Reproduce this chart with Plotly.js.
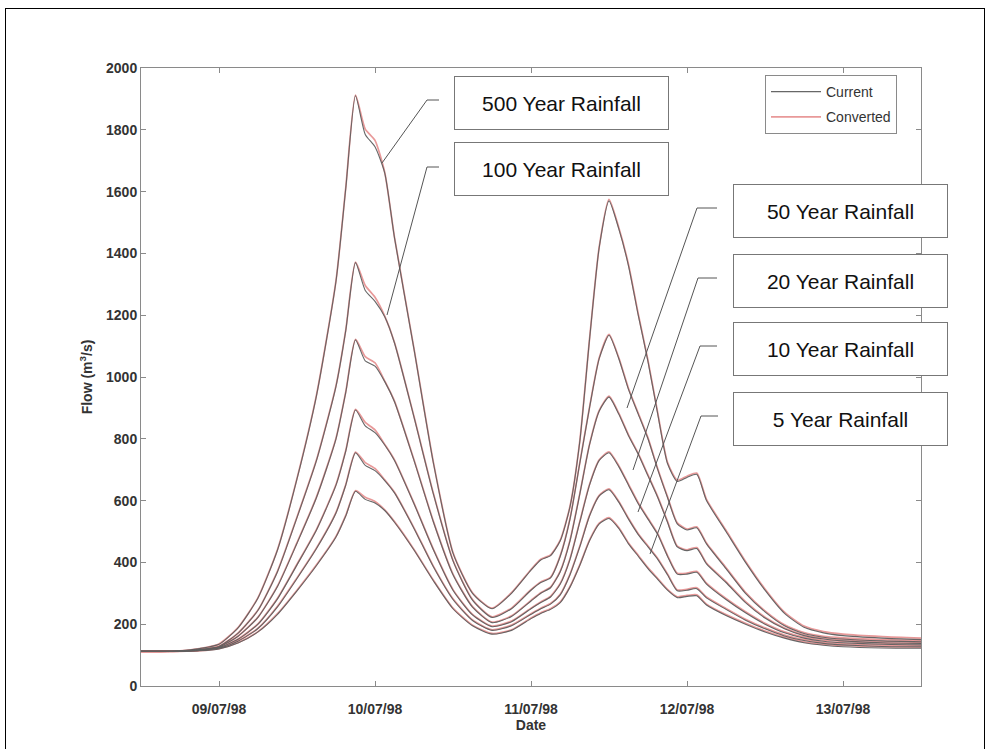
<!DOCTYPE html>
<html><head><meta charset="utf-8">
<script src="https://cdn.plot.ly/plotly-3.0.1.min.js"></script>
<style>
html,body{margin:0;padding:0;background:#fff;overflow:hidden;}
#chart{position:absolute;left:0;top:0;width:991px;height:749px;}
#frame{position:absolute;left:5px;top:8px;width:978px;height:800px;border:1.5px solid #000;pointer-events:none;}
</style></head><body>
<div id="chart"></div><div id="frame"></div>
<script>
// ---- data (times shared by all series) ----
const times = [
 '1998-07-08 12:00','1998-07-08 15:00','1998-07-08 18:00','1998-07-08 21:00',
 '1998-07-09 00:00','1998-07-09 03:00','1998-07-09 06:00','1998-07-09 09:00','1998-07-09 12:00','1998-07-09 15:00','1998-07-09 18:00','1998-07-09 19:30','1998-07-09 21:00','1998-07-09 22:30',
 '1998-07-10 00:00','1998-07-10 01:30','1998-07-10 03:00','1998-07-10 06:00','1998-07-10 09:00','1998-07-10 12:00','1998-07-10 15:00','1998-07-10 18:00','1998-07-10 21:00',
 '1998-07-11 00:00','1998-07-11 01:30','1998-07-11 03:00','1998-07-11 04:30','1998-07-11 06:00','1998-07-11 07:30','1998-07-11 09:00','1998-07-11 10:30','1998-07-11 12:00','1998-07-11 13:30','1998-07-11 15:00','1998-07-11 16:30','1998-07-11 18:00','1998-07-11 19:30','1998-07-11 21:00','1998-07-11 22:30',
 '1998-07-12 00:00','1998-07-12 01:30','1998-07-12 03:00','1998-07-12 06:00','1998-07-12 09:00','1998-07-12 12:00','1998-07-12 15:00','1998-07-12 18:00','1998-07-12 21:00',
 '1998-07-13 00:00','1998-07-13 06:00','1998-07-13 12:00'
];
const current500 = [112,112,114,121,135,190,285,440,670,940,1310,1610,1910,1785,1745,1660,1450,1090,720,430,300,250,300,375,408,422,470,580,790,1120,1420,1570,1480,1360,1200,1050,880,720,662,675,685,600,500,400,310,235,190,172,163,155,150];
const converted500 = [112,112,114,121,136,191,286,442,672,942,1312,1612,1912,1802,1766,1662,1452,1092,722,432,302,252,302,377,410,424,472,582,792,1122,1422,1575,1484,1364,1204,1054,884,724,666,679,689,604,504,404,314,239,194,176,168,160,155];
const current100 = [112,112,113,118,128,172,245,370,545,730,970,1150,1370,1280,1245,1195,1110,870,620,405,278,222,250,310,335,350,420,540,720,900,1060,1135,1060,960,880,800,700,610,525,505,512,460,380,300,240,195,170,158,152,146,143];
const converted100 = [112,112,113,118,129,173,246,372,547,732,972,1152,1372,1296,1258,1197,1112,872,622,407,280,224,252,312,337,352,422,542,722,902,1062,1138,1063,963,883,803,703,613,528,508,515,463,383,303,243,198,173,161,156,150,147];
const current50 = [112,112,113,117,126,162,222,322,462,610,800,950,1120,1052,1035,985,920,730,530,360,255,205,225,275,300,318,370,470,620,780,890,935,880,810,750,680,610,530,450,438,445,395,335,270,220,185,163,152,146,140,138];
const converted50 = [112,112,113,117,127,163,223,324,464,612,802,952,1122,1066,1046,987,922,732,532,362,257,207,227,277,302,320,372,472,622,782,892,938,883,813,753,683,613,533,453,441,448,398,338,273,223,188,166,155,150,144,142];
const current20 = [112,112,113,116,124,152,200,282,392,505,650,760,893,842,820,780,730,590,440,310,230,192,208,250,270,288,330,410,530,650,730,755,710,650,590,540,490,420,362,362,368,330,280,237,200,172,155,145,140,135,133];
const converted20 = [112,112,113,116,125,153,201,284,394,507,652,762,895,853,829,782,732,592,442,312,232,194,210,252,272,290,332,412,532,652,732,758,713,653,593,543,493,423,365,365,371,333,283,240,203,175,158,148,144,139,137];
const current10 = [112,112,113,115,122,146,186,256,348,445,560,650,755,714,697,665,625,510,385,280,212,180,195,232,250,265,295,360,450,550,615,635,595,540,490,450,410,360,308,310,315,285,248,213,185,162,147,138,133,128,127];
const converted10 = [112,112,113,115,123,147,187,258,350,447,562,652,757,723,704,667,627,512,387,282,214,182,197,234,252,267,297,362,452,552,617,638,598,543,493,453,413,363,311,313,318,288,251,216,188,165,150,141,137,132,131];
const current5 = [112,112,112,114,120,140,175,232,308,390,482,550,630,604,592,568,530,440,340,250,195,168,180,218,235,248,270,320,390,470,525,542,510,460,420,380,345,310,286,290,292,262,228,200,175,155,140,132,127,123,122];
const converted5 = [112,112,112,114,121,141,176,234,310,392,484,552,632,611,597,570,532,442,342,252,197,170,182,220,237,250,272,322,392,472,527,545,513,463,423,383,348,313,289,293,295,265,231,203,178,158,143,135,131,127,126];
const rainfallLabels = ['500 Year Rainfall','100 Year Rainfall','50 Year Rainfall','20 Year Rainfall','10 Year Rainfall','5 Year Rainfall'];
const xTickFormat = '%d/%m/%y';

// ---- layout geometry (pixels) ----
const L = 141, R = 921, T = 68, B = 686;
const px = x => (x - L) / (R - L);
const py = y => (B - y) / (B - T);
const FONT = 'Liberation Sans, Arial, Helvetica, sans-serif';

const currentSets = [current500, current100, current50, current20, current10, current5];
const convertedSets = [converted500, converted100, converted50, converted20, converted10, converted5];

const traces = [];
convertedSets.forEach((ys, i) => traces.push({
  x: times, y: ys, type: 'scatter', mode: 'lines', name: 'Converted',
  legendgroup: 'conv', legendrank: 2, showlegend: i === 0,
  line: {color: 'rgba(222,110,110,0.7)', width: 1.7, shape: 'spline', smoothing: 0.6}, hoverinfo: 'skip'
}));
currentSets.forEach((ys, i) => traces.push({
  x: times, y: ys, type: 'scatter', mode: 'lines', name: 'Current',
  legendgroup: 'cur', legendrank: 1, showlegend: i === 0,
  line: {color: 'rgba(95,95,95,0.95)', width: 1.1, shape: 'spline', smoothing: 0.6}, hoverinfo: 'skip'
}));

// label boxes: centre (px) ; leaders: horizontal stub end, elbow, tip (px)
const boxPos = [[561.5,103],[561.5,169],[840.5,211],[840.5,281],[840.5,349],[840.5,419.5]];
const leaders = [
  [[439,100],[427,100],[382,163]],
  [[439,167],[427,167],[387,315]],
  [[717,208],[697,208],[627,408]],
  [[717,278],[698,278],[633,470]],
  [[717,346],[700,346],[638,512]],
  [[718,416],[701,416],[650,554]]
];

const annotations = rainfallLabels.map((t, i) => ({
  text: t, xref: 'paper', yref: 'paper', x: px(boxPos[i][0]), y: py(boxPos[i][1]),
  xanchor: 'center', yanchor: 'middle', showarrow: false,
  width: 211, height: 50, bgcolor: '#fff', bordercolor: '#777', borderwidth: 1, borderpad: 1,
  font: {family: FONT, size: 21, color: '#111'}
}));

const shapes = leaders.map(p => ({
  type: 'path', xref: 'paper', yref: 'paper',
  path: `M${px(p[0][0])},${py(p[0][1])} L${px(p[1][0])},${py(p[1][1])} L${px(p[2][0])},${py(p[2][1])}`,
  line: {color: '#555', width: 1}
}));

const axisCommon = {
  showline: true, linecolor: '#8a8a8a', linewidth: 1, mirror: 'allticks',
  ticks: 'inside', ticklen: 5, tickcolor: '#8a8a8a', tickwidth: 1,
  showgrid: false, zeroline: false,
  tickfont: {family: FONT, size: 14, color: '#333', weight: 'bold'}
};

const layout = {
  width: 991, height: 749,
  margin: {l: L, r: 991 - R, t: T, b: 749 - B},
  paper_bgcolor: '#fff', plot_bgcolor: '#fff',
  showlegend: true,
  legend: {x: px(765), y: py(75), xanchor: 'left', yanchor: 'top',
    bgcolor: '#fff', bordercolor: '#8a8a8a', borderwidth: 1,
    font: {family: FONT, size: 14, color: '#333'}, itemwidth: 50, tracegroupgap: 4},
  xaxis: Object.assign({}, axisCommon, {
    type: 'date', range: ['1998-07-08 12:00', '1998-07-13 12:00'],
    tick0: '1998-07-09', dtick: 86400000, tickformat: xTickFormat,
    ticklabelstandoff: 10,
    title: {text: 'Date', font: {family: FONT, size: 14, color: '#333', weight: 'bold'}, standoff: 1}
  }),
  yaxis: Object.assign({}, axisCommon, {
    range: [0, 2000], dtick: 200, tick0: 0,
    title: {text: 'Flow (m<sup>3</sup>/s)', font: {family: FONT, size: 14, color: '#333', weight: 'bold'}, standoff: 10}
  }),
  annotations: annotations,
  shapes: shapes
};

Plotly.newPlot('chart', traces, layout, {displayModeBar: false, staticPlot: true});
</script>
</body></html>
